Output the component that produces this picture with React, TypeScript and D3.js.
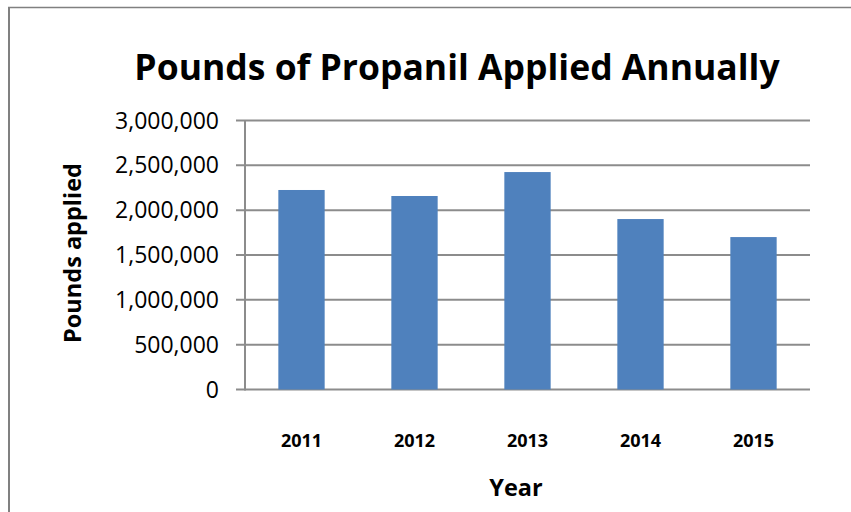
import React from "react";
import * as d3 from "d3";

const years = ["2011", "2012", "2013", "2014", "2015"];
const pounds = [2225000, 2158000, 2425000, 1901000, 1700000];
const yTicks = [0, 500000, 1000000, 1500000, 2000000, 2500000, 3000000];

const W = 851;
const H = 512;
const FONT = "'Open Sans', 'Liberation Sans', sans-serif";

export default function App() {
  const x0 = 245, x1 = 810, y0 = 389.5, y1 = 120.5;
  const x = d3.scaleBand<string>().domain(years).range([x0, x1]).paddingInner(0.59).paddingOuter(0.295);
  const y = d3.scaleLinear().domain([0, 3000000]).range([y0, y1]);
  const fmt = d3.format(",");
  const grid = "#8c8c8c";
  return (
    <svg width={W} height={H} style={{ position: "absolute", left: 0, top: 0 }} fontFamily={FONT}>
      <rect x={0} y={0} width={W} height={H} fill="#fff" />
      <line x1={9} y1={7} x2={9} y2={H} stroke="#808080" strokeWidth={2} />
      <line x1={8} y1={7.5} x2={W} y2={7.5} stroke="#808080" strokeWidth={1.5} />
      <text x={457} y={80} textAnchor="middle" fontSize={35.5} fontWeight="bold" fill="#000">
        Pounds of Propanil Applied Annually
      </text>
      {yTicks.map((t) => (
        <g key={t}>
          <line x1={236} x2={x1} y1={y(t)} y2={y(t)} stroke={grid} strokeWidth={2} />
          <text x={219} y={y(t)} dy="0.35em" textAnchor="end" fontSize={23} fill="#000">
            {fmt(t)}
          </text>
        </g>
      ))}
      <line x1={x0} x2={x0} y1={y1} y2={y0 + 1} stroke={grid} strokeWidth={2} />
      {years.map((yr, i) => (
        <rect key={yr} x={x(yr)} y={y(pounds[i])} width={x.bandwidth()} height={y0 - y(pounds[i])} fill="#4F81BD" />
      ))}
      {years.map((yr) => (
        <text key={yr} x={(x(yr) as number) + x.bandwidth() / 2} y={441} dy="0.35em" textAnchor="middle" fontSize={18} fontWeight="bold" fill="#000">
          {yr}
        </text>
      ))}
      <text x={516} y={488} dy="0.35em" textAnchor="middle" fontSize={23.5} fontWeight="bold" fill="#000">
        Year
      </text>
      <text transform="translate(73,253) rotate(-90)" dy="0.35em" textAnchor="middle" fontSize={23.5} fontWeight="bold" fill="#000">
        Pounds applied
      </text>
    </svg>
  );
}
